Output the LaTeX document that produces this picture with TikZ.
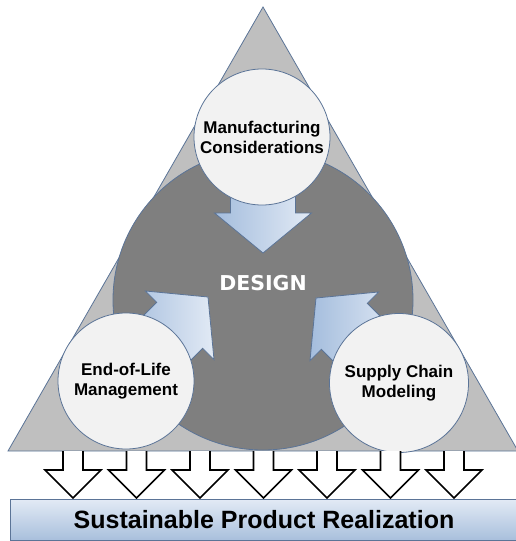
\documentclass[tikz,border=0pt]{standalone}
\usepackage{fontspec}
\setmainfont{Liberation Sans}
\newfontfamily\designfont{DejaVu Sans}
\usetikzlibrary{positioning}

\definecolor{trigray}{HTML}{BFBFBF}
\definecolor{coregray}{HTML}{7F7F7F}
\definecolor{bubblefill}{HTML}{F2F2F2}
\definecolor{edgeblue}{HTML}{5B7497}
\definecolor{arrowblue}{HTML}{A4BDDD}
\definecolor{arrowpale}{HTML}{E2EAF5}
\definecolor{bardark}{HTML}{A8BFDC}

\tikzset{
  bubble/.style={circle,draw=edgeblue,fill=bubblefill,line width=0.8pt,
    minimum size=136,inner sep=0pt,align=center,
    font=\fontsize{17}{20}\selectfont\bfseries},
  feed/.style={draw=edgeblue,line width=0.8pt,left color=arrowblue,right color=arrowpale},
  outflow/.style={draw=black,fill=white,line width=1.6pt,line join=miter},
}

\begin{document}
\begin{tikzpicture}[x=1pt,y=-1pt]
  \useasboundingbox (0,0) rectangle (516,541);

  % background triangle and design core
  \draw[draw=edgeblue,fill=trigray,line width=0.8pt] (263,7) -- (8,451) -- (518,451) -- cycle;
  \node (core) [circle,draw=edgeblue,fill=coregray,line width=0.8pt,minimum size=300,inner sep=0pt] at (263,300) {};

  % arrows feeding into design
  \foreach \tipx/\tipy/\ang in {263/253/-90, 208/297/45, 316/298/135}{
    \begin{scope}[shift={(\tipx,\tipy)},rotate=\ang]
      \draw[feed] (0,0) -- (-40,48.5) -- (-40,32.5) -- (-90,32.5) -- (-90,-32.5)
        -- (-40,-32.5) -- (-40,-48.5) -- cycle;
    \end{scope}
  }

  \node (manu) [bubble] at (262,137) {Manufacturing\\Considerations};
  \node (eol) [bubble] at (126,381) {End-of-Life\\Management};
  \node (supply) [bubble,minimum size=139] at (399,383) {Supply Chain\\Modeling};
  \node (design) [text=white,font=\designfont\fontsize{20.5}{24}\selectfont\bfseries] at (263,283) {DESIGN};

  % arrows down to the bar
  \foreach \x in {73,136.5,200,263.5,327,390.5,454}{
    \draw[outflow] (\x-10,451) -- (\x-10,470) -- (\x-28,470) -- (\x,498)
      -- (\x+28,470) -- (\x+10,470) -- (\x+10,451);
  }

  \node (spr) [draw=edgeblue,line width=0.6pt,top color=arrowpale,bottom color=bardark,
    minimum width=510,minimum height=41,inner sep=0pt,anchor=north west] at (10,499) {};
  \node (sprtext) [font=\fontsize{25}{30}\selectfont\bfseries] at (264,520) {Sustainable Product Realization};
\end{tikzpicture}
\end{document}
